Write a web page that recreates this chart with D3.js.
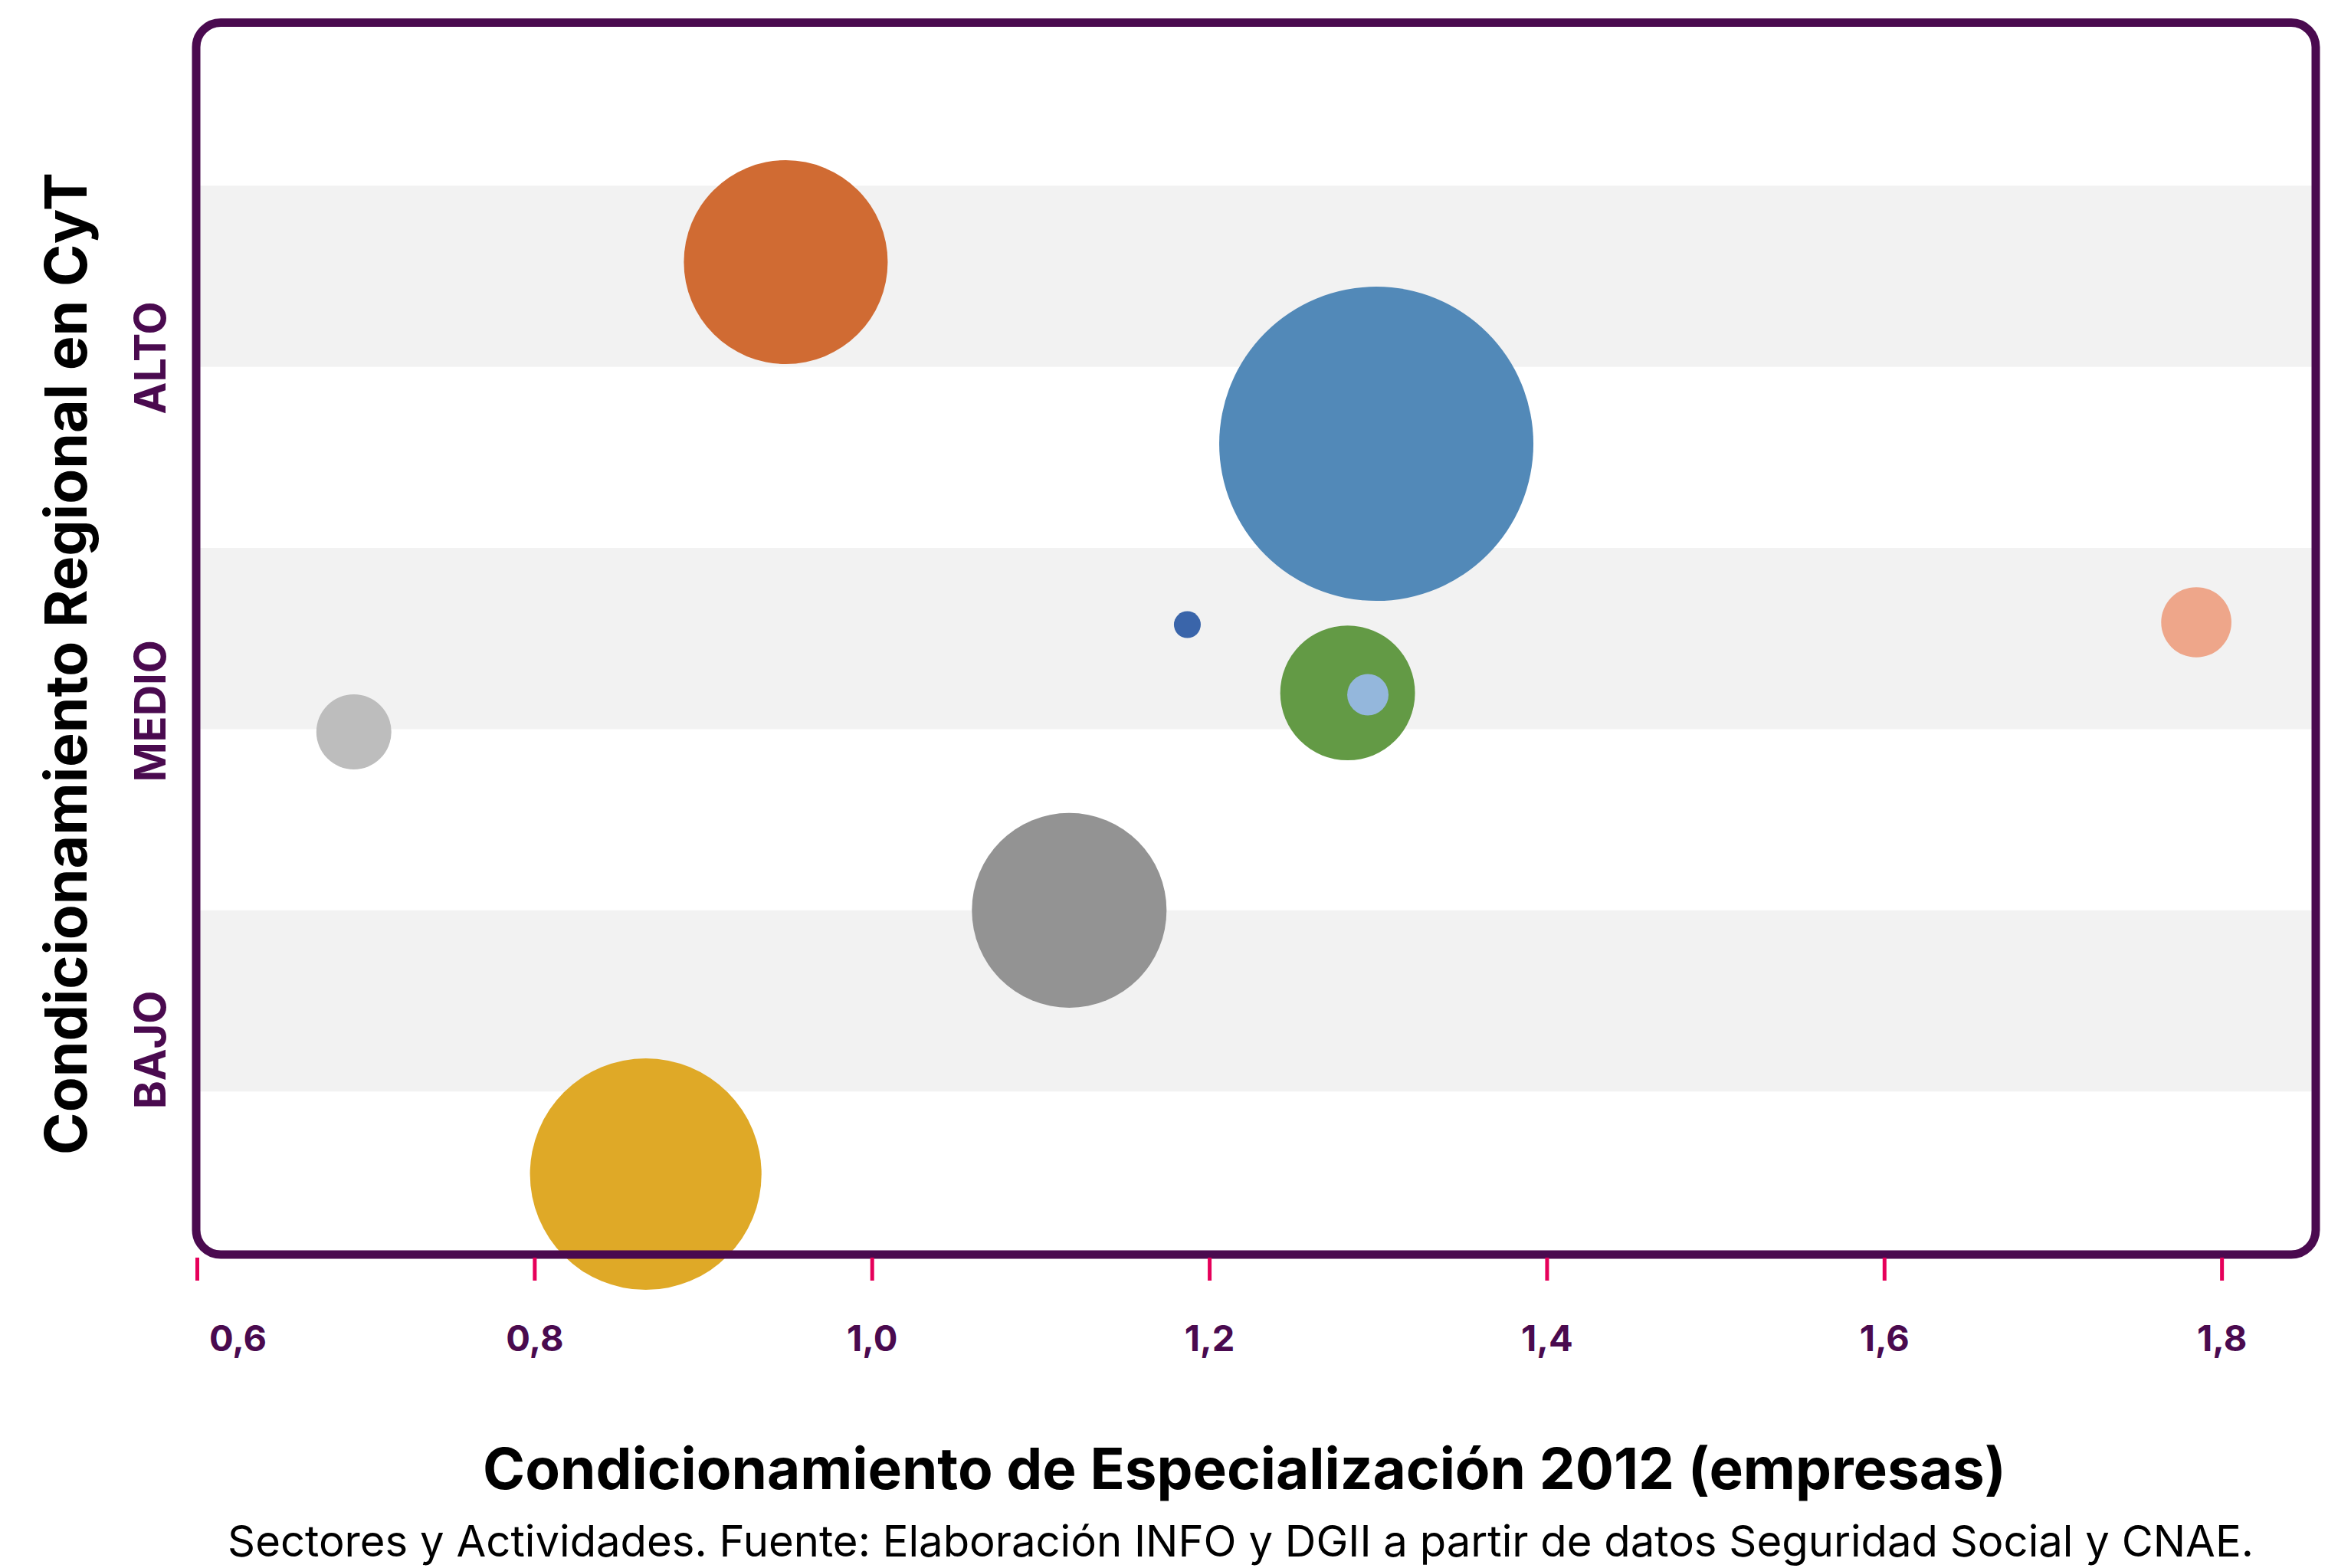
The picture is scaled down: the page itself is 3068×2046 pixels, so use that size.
<!DOCTYPE html>
<html>
<head>
<meta charset="utf-8">
<script src="https://d3js.org/d3.v7.min.js"></script>
<style>
  body { margin: 0; background: #fff; }
  svg { display: block; }
  text { font-family: Inter, "Open Sans", sans-serif; }
</style>
</head>
<body>
<script>
// ---- data ----
var sectores = ["A", "B", "C", "D", "E", "F", "G", "H", "I"];
var especializacion = [1.299, 0.866, 0.949, 1.117, 1.282, 0.693, 1.785, 1.294, 1.187];   // x
var condRegional    = [4.575, 0.544, 5.578, 2.00, 3.20, 2.985, 3.59, 3.19, 3.577];     // y
var tamano          = [100, 54.3, 42.1, 38.4, 18.4, 5.7, 5.0, 1.73, 0.73];            // bubble size
var colores = ["#5289b8", "#dfa927", "#d06b33", "#939393", "#639a45",
               "#bdbdbd", "#eea68a", "#94b7dc", "#3a65aa"];

var xTicks = [0.6, 0.8, 1.0, 1.2, 1.4, 1.6, 1.8];
var nivelLabels = ["ALTO", "MEDIO", "BAJO"];
var nivelPos = [5.05, 3.1, 1.23];
var bandas = [[1, 2], [3, 4], [5, 6]];

var xTitle = "Condicionamiento de Especialización 2012 (empresas)";
var yTitle = "Condicionamiento Regional en CyT";
var fuente = "Sectores y Actividades. Fuente: Elaboración INFO y DGII a partir de datos Seguridad Social y CNAE.";

// ---- layout ----
var W = 3068, H = 2046;
var plotLeft = 257, plotRight = 3022, plotTop = 29.5, plotBottom = 1637;
var purple = "#4a0a4f", tickColor = "#e6005a";

var x = d3.scaleLinear().domain([0.6, 1.8558]).range([plotLeft, plotRight]);
var y = d3.scaleLinear().domain([0.1, 6.9]).range([plotBottom, plotTop]);
var r = d3.scaleSqrt().domain([0, 100]).range([0, 205]);

var svg = d3.select("body").append("svg")
    .attr("width", W)
    .attr("height", H);

// grey bands
svg.append("g").selectAll("rect")
    .data(bandas)
    .join("rect")
    .attr("x", plotLeft)
    .attr("width", plotRight - plotLeft)
    .attr("y", function (d) { return y(d[1]); })
    .attr("height", function (d) { return y(d[0]) - y(d[1]); })
    .attr("fill", "#f2f2f2");

// bubbles, biggest first so the small ones stay on top
var puntos = sectores.map(function (s, i) {
    return { id: s, x: especializacion[i], y: condRegional[i], size: tamano[i], color: colores[i] };
}).sort(function (a, b) { return b.size - a.size; });

svg.append("g").selectAll("circle")
    .data(puntos)
    .join("circle")
    .attr("cx", function (d) { return x(d.x); })
    .attr("cy", function (d) { return y(d.y); })
    .attr("r", function (d) { return r(d.size); })
    .attr("fill", function (d) { return d.color; });

// frame
svg.append("rect")
    .attr("x", plotLeft - 1)
    .attr("y", plotTop)
    .attr("width", plotRight - plotLeft + 1)
    .attr("height", plotBottom - plotTop)
    .attr("rx", 32)
    .attr("fill", "none")
    .attr("stroke", purple)
    .attr("stroke-width", 11);

// x axis
var xAxis = svg.append("g")
    .attr("transform", "translate(0," + (plotBottom + 4) + ")")
    .call(d3.axisBottom(x)
        .tickValues(xTicks)
        .tickSize(30)
        .tickFormat(function (d) { return d3.format(".1f")(d).replace(".", ","); }));

xAxis.select(".domain").remove();
xAxis.selectAll(".tick line")
    .attr("stroke", tickColor)
    .attr("stroke-width", 5);
xAxis.selectAll(".tick text")
    .attr("y", 122)
    .attr("dy", 0)
    .attr("dx", function (d, i) { return i === 0 ? 53 : 0; })
    .attr("fill", purple)
    .attr("font-size", 47)
    .attr("font-weight", 700)
    .attr("font-family", "Inter, 'Open Sans', sans-serif");

// level labels on the left
svg.append("g").selectAll("text")
    .data(nivelLabels)
    .join("text")
    .attr("transform", function (d, i) { return "translate(216," + y(nivelPos[i]) + ") rotate(-90)"; })
    .attr("text-anchor", "middle")
    .attr("fill", purple)
    .attr("font-size", 56)
    .attr("font-weight", 700)
    .text(function (d) { return d; });

// stretch a text to the width it has in the picture
function fit(sel, target) {
    var len = sel.node().getComputedTextLength();
    var fs = parseFloat(sel.attr("font-size"));
    sel.attr("font-size", fs * target / len);
}

var yt = svg.append("text")
    .attr("transform", "translate(113,866) rotate(-90)")
    .attr("text-anchor", "middle")
    .attr("font-size", 72)
    .attr("font-weight", 700)
    .attr("fill", "#000")
    .text(yTitle);
fit(yt, 1282);

var xt = svg.append("text")
    .attr("x", 1624)
    .attr("y", 1943)
    .attr("text-anchor", "middle")
    .attr("font-size", 72)
    .attr("font-weight", 700)
    .attr("fill", "#000")
    .text(xTitle);
fit(xt, 1988);

var ft = svg.append("text")
    .attr("x", 1619)
    .attr("y", 2031)
    .attr("text-anchor", "middle")
    .attr("font-size", 50)
    .attr("font-weight", 400)
    .attr("fill", "#000")
    .text(fuente);
fit(ft, 2644);
</script>
</body>
</html>
